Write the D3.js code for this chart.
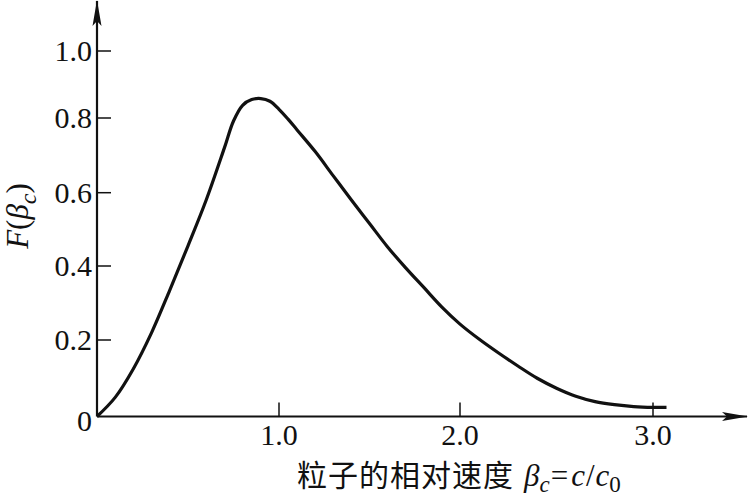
<!DOCTYPE html>
<meta charset="utf-8">
<head>
    <style>
        body { margin: 0; background: #fff; }
        .tick-label { font-family: "Liberation Serif", "DejaVu Serif", serif; font-size: 30px; fill: #111; }
        .axis-title { font-family: "Liberation Serif", serif; font-size: 31px; fill: #111; }
        .cjk { font-family: "Noto Sans CJK SC", sans-serif; font-size: 30px; letter-spacing: 1px; }
    </style>
    <script src="https://d3js.org/d3.v7.min.js"></script>
</head>
<body>
    <div id="chart"></div>
    <script>
        // values
        var beta = [0, 0.1, 0.2, 0.3, 0.4, 0.5, 0.6, 0.7, 0.75, 0.8, 0.85, 0.9, 0.95, 1.0, 1.05, 1.1, 1.2,
            1.3, 1.4, 1.5, 1.6, 1.7, 1.8, 1.9, 2.0, 2.1, 2.2, 2.3, 2.4, 2.5, 2.6, 2.7, 2.8, 2.9, 3.0, 3.07];
        var F = [0, 0.05, 0.125, 0.22, 0.335, 0.455, 0.58, 0.72, 0.792, 0.838, 0.855, 0.858, 0.85, 0.826,
            0.797, 0.768, 0.71, 0.645, 0.58, 0.516, 0.452, 0.395, 0.342, 0.289, 0.243, 0.202, 0.166, 0.132,
            0.1, 0.074, 0.053, 0.039, 0.031, 0.026, 0.024, 0.024];
        var xTicks = [1.0, 2.0, 3.0];
        var yTicks = [0.2, 0.4, 0.6, 0.8, 1.0];
        var xTickLabels = ["1.0", "2.0", "3.0"];
        var yTickLabels = ["0.2", "0.4", "0.6", "0.8", "1.0"];

        var width = 748, height = 498;

        // the original is hand drawn, tick spacing is a bit uneven
        var x = d3.scaleLinear().domain([0, 1, 2, 3]).range([97, 279, 460, 653]);
        var y = d3.scaleLinear().domain([0, 0.2, 0.4, 0.6, 0.8, 1.0]).range([416.5, 340, 266, 192.7, 118, 51]);

        var svg = d3.select("#chart").append("svg")
            .attr("width", width)
            .attr("height", height);

        var defs = svg.append("defs");
        defs.append("marker")
            .attr("id", "arrow")
            .attr("viewBox", "0 0 26 10")
            .attr("refX", 25)
            .attr("refY", 5)
            .attr("markerWidth", 26)
            .attr("markerHeight", 10)
            .attr("markerUnits", "userSpaceOnUse")
            .attr("orient", "auto")
            .append("path")
            .attr("d", "M0,0.5 L26,5 L0,9.5 L5,5 Z")
            .attr("fill", "#111");

        var x0 = x(0), y0 = y(0);

        // axes with arrows
        svg.append("line")
            .attr("x1", x0).attr("y1", y0)
            .attr("x2", width - 1).attr("y2", y0)
            .attr("stroke", "#111").attr("stroke-width", 2.2)
            .attr("marker-end", "url(#arrow)");
        svg.append("line")
            .attr("x1", x0).attr("y1", y0)
            .attr("x2", x0).attr("y2", 1)
            .attr("stroke", "#111").attr("stroke-width", 2.2)
            .attr("marker-end", "url(#arrow)");

        // ticks point inwards
        svg.selectAll(".xtick").data(xTicks).enter().append("line")
            .attr("class", "xtick")
            .attr("x1", d => x(d)).attr("x2", d => x(d))
            .attr("y1", y0).attr("y2", y0 - 14)
            .attr("stroke", "#111").attr("stroke-width", 1.5);
        svg.selectAll(".ytick").data(yTicks).enter().append("line")
            .attr("class", "ytick")
            .attr("x1", x0).attr("x2", x0 + 14)
            .attr("y1", d => y(d)).attr("y2", d => y(d))
            .attr("stroke", "#111").attr("stroke-width", 1.5);

        svg.selectAll(".xlab").data(xTicks).enter().append("text")
            .attr("class", "tick-label")
            .attr("x", d => x(d))
            .attr("y", y0 + 28)
            .attr("text-anchor", "middle")
            .text((d, i) => xTickLabels[i]);
        svg.selectAll(".ylab").data(yTicks).enter().append("text")
            .attr("class", "tick-label")
            .attr("x", x0 - 5)
            .attr("y", d => y(d) + 10)
            .attr("text-anchor", "end")
            .text((d, i) => yTickLabels[i]);
        svg.append("text")
            .attr("class", "tick-label")
            .attr("x", x0 - 5)
            .attr("y", y0 + 14)
            .attr("text-anchor", "end")
            .text("0");

        // curve
        var line = d3.line()
            .x((d, i) => x(beta[i]))
            .y(d => y(d))
            .curve(d3.curveCatmullRom.alpha(0.5));
        svg.append("path")
            .datum(F)
            .attr("d", line)
            .attr("fill", "none")
            .attr("stroke", "#111")
            .attr("stroke-width", 3.2)
            .attr("stroke-linejoin", "round");

        // y axis title
        var yt = svg.append("text")
            .attr("class", "axis-title")
            .attr("font-size", "33px")
            .attr("transform", "translate(28,216) rotate(-90)")
            .attr("text-anchor", "middle");
        yt.append("tspan").attr("font-style", "italic").text("F");
        yt.append("tspan").text("(");
        yt.append("tspan").attr("font-style", "italic").text("β");
        yt.append("tspan").attr("font-style", "italic").attr("font-size", "24px").attr("dy", 8).text("c");
        yt.append("tspan").attr("dy", -8).text(")");

        // x axis title
        var xt = svg.append("text")
            .attr("class", "axis-title")
            .attr("x", 297)
            .attr("y", 486);
        xt.append("tspan").attr("class", "cjk").text("粒子的相对速度");
        xt.append("tspan").attr("font-style", "italic").attr("dx", 10).text("β");
        xt.append("tspan").attr("font-style", "italic").attr("font-size", "23px").attr("dy", 6).text("c");
        xt.append("tspan").attr("dy", -6).attr("dx", 1).text("=");
        xt.append("tspan").attr("font-style", "italic").attr("dx", 3).text("c");
        xt.append("tspan").attr("dx", 1).text("/");
        xt.append("tspan").attr("font-style", "italic").attr("dx", 1).text("c");
        xt.append("tspan").attr("font-size", "23px").attr("dy", 6).text("0");
    </script>
</body>
